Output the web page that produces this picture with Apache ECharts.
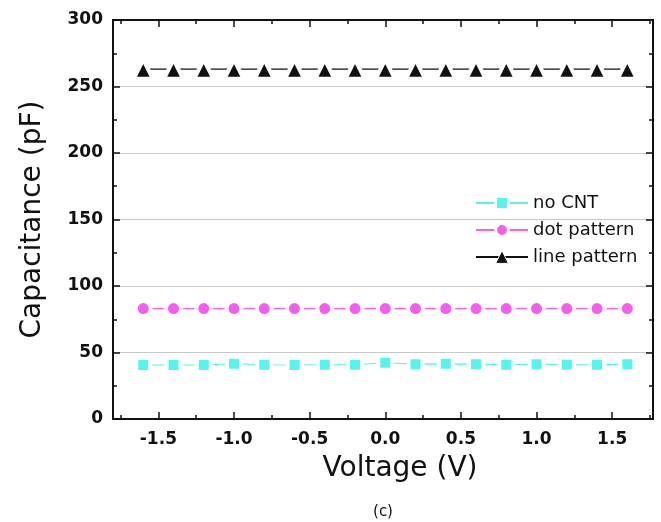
<!DOCTYPE html>
<html>
<head>
<meta charset="utf-8">
<script src="https://cdn.jsdelivr.net/npm/echarts@6/dist/echarts.min.js"></script>
<style>html,body{margin:0;padding:0;background:#fff}#c{width:661px;height:522px}</style>
</head>
<body>
<div id="c"></div>
<script>
const voltage = [-1.6, -1.4, -1.2, -1.0, -0.8, -0.6, -0.4, -0.2, 0.0, 0.2, 0.4, 0.6, 0.8, 1.0, 1.2, 1.4, 1.6];
const noCNT = [40.6, 40.6, 40.6, 41.6, 40.8, 40.6, 40.8, 40.8, 42.3, 41.2, 41.5, 41.2, 40.8, 41.2, 40.8, 40.8, 41.2];
const dotPattern = [83, 83, 83, 83, 83, 83, 83, 83, 83, 83, 83, 83, 83, 83, 83, 83, 83];
const linePattern = [263, 263, 263, 263, 263, 263, 263, 263, 263, 263, 263, 263, 263, 263, 263, 263, 263];
const xMajorTicks = [-1.5, -1.0, -0.5, 0.0, 0.5, 1.0, 1.5];
const xMinorTicks = [-1.75, -1.25, -0.75, -0.25, 0.25, 0.75, 1.25, 1.75];
const seriesNames = ['no CNT', 'dot pattern', 'line pattern'];

const FONT = 'DejaVu Sans';
const XMIN = -1.8, XMAX = 1.77;
const cyan = '#55f5ef', pink = '#f75cf2', black = '#111111';

function pairs(ys) { return voltage.map((v, i) => [v, ys[i]]); }

function xAx(pos, ticks, len, labels) {
  return {
    type: 'value', position: pos, min: XMIN, max: XMAX,
    axisLine: { show: true, onZero: false, lineStyle: { color: '#111', width: 2 } },
    axisTick: { show: true, inside: true, length: len, customValues: ticks, lineStyle: { color: '#111', width: 1.5 } },
    axisLabel: labels ? {
      show: true, customValues: xMajorTicks, margin: 12,
      formatter: v => Number(v).toFixed(1),
      fontFamily: FONT, fontWeight: 'bold', fontSize: 17, color: '#111'
    } : { show: false },
    splitLine: { show: false }
  };
}

function yAx(pos, main) {
  const a = {
    type: 'value', position: pos, min: 0, max: 300, interval: 50,
    axisLine: { show: true, onZero: false, lineStyle: { color: '#111', width: 2 } },
    axisTick: { show: true, inside: true, length: 7, lineStyle: { color: '#111', width: 1.5 } },
    minorTick: { show: true, splitNumber: 2, length: 4, lineStyle: { color: '#111', width: 1.5 } },
    axisLabel: main ? { margin: 10, fontFamily: FONT, fontWeight: 'bold', fontSize: 17, color: '#111' } : { show: false },
    splitLine: main ? { show: true, lineStyle: { color: '#c8c8c8', width: 1 } } : { show: false }
  };
  if (main) {
    a.name = 'Capacitance (pF)';
    a.nameLocation = 'middle';
    a.nameGap = 66;
    a.nameTextStyle = { fontFamily: FONT, fontSize: 28, color: '#111' };
  }
  return a;
}

const option = {
  animation: false,
  backgroundColor: '#fff',
  grid: { left: 113, top: 20, right: 8, bottom: 103, containLabel: false },
  xAxis: [
    Object.assign(xAx('bottom', xMajorTicks, 7, true), {
      name: 'Voltage (V)', nameLocation: 'middle', nameGap: 36,
      nameTextStyle: { fontFamily: FONT, fontSize: 28, color: '#111', padding: [0, 0, 0, 34] }
    }),
    xAx('bottom', xMinorTicks, 4, false),
    xAx('top', xMajorTicks, 7, false),
    xAx('top', xMinorTicks, 4, false)
  ],
  yAxis: [yAx('left', true), yAx('right', false)],
  legend: {
    orient: 'vertical', left: 470, top: 189, itemGap: 9,
    itemWidth: 52, itemHeight: 16,
    itemStyle: { borderColor: '#fff', borderWidth: 3 },
    textStyle: { fontFamily: FONT, fontSize: 18, color: '#111', lineHeight: 18 },
    data: [
      { name: seriesNames[0] },
      { name: seriesNames[1] },
      { name: seriesNames[2], itemStyle: { borderColor: '#fff', borderWidth: 1 } }
    ]
  },
  title: {
    text: '(c)', left: 378, top: 500, textAlign: 'center',
    textStyle: { fontFamily: FONT, fontSize: 15, fontWeight: 'normal', color: '#111' }
  },
  series: [
    {
      name: seriesNames[0], type: 'line', data: pairs(noCNT),
      symbol: 'rect', symbolSize: 14,
      itemStyle: { color: cyan, borderColor: '#fff', borderWidth: 4 },
      lineStyle: { color: cyan, width: 1.2 },
      emphasis: { disabled: true }
    },
    {
      name: seriesNames[1], type: 'line', data: pairs(dotPattern),
      symbol: 'circle', symbolSize: 15,
      itemStyle: { color: pink, borderColor: '#fff', borderWidth: 4 },
      lineStyle: { color: pink, width: 1.2 },
      emphasis: { disabled: true }
    },
    {
      name: seriesNames[2], type: 'line', data: pairs(linePattern),
      symbol: 'triangle', symbolSize: 19,
      itemStyle: { color: black, borderColor: '#fff', borderWidth: 4, borderJoin: 'round' },
      lineStyle: { color: black, width: 1.2 },
      emphasis: { disabled: true }
    }
  ]
};

const chart = echarts.init(document.getElementById('c'), null, { renderer: 'canvas' });
chart.setOption(option);
</script>
</body>
</html>
